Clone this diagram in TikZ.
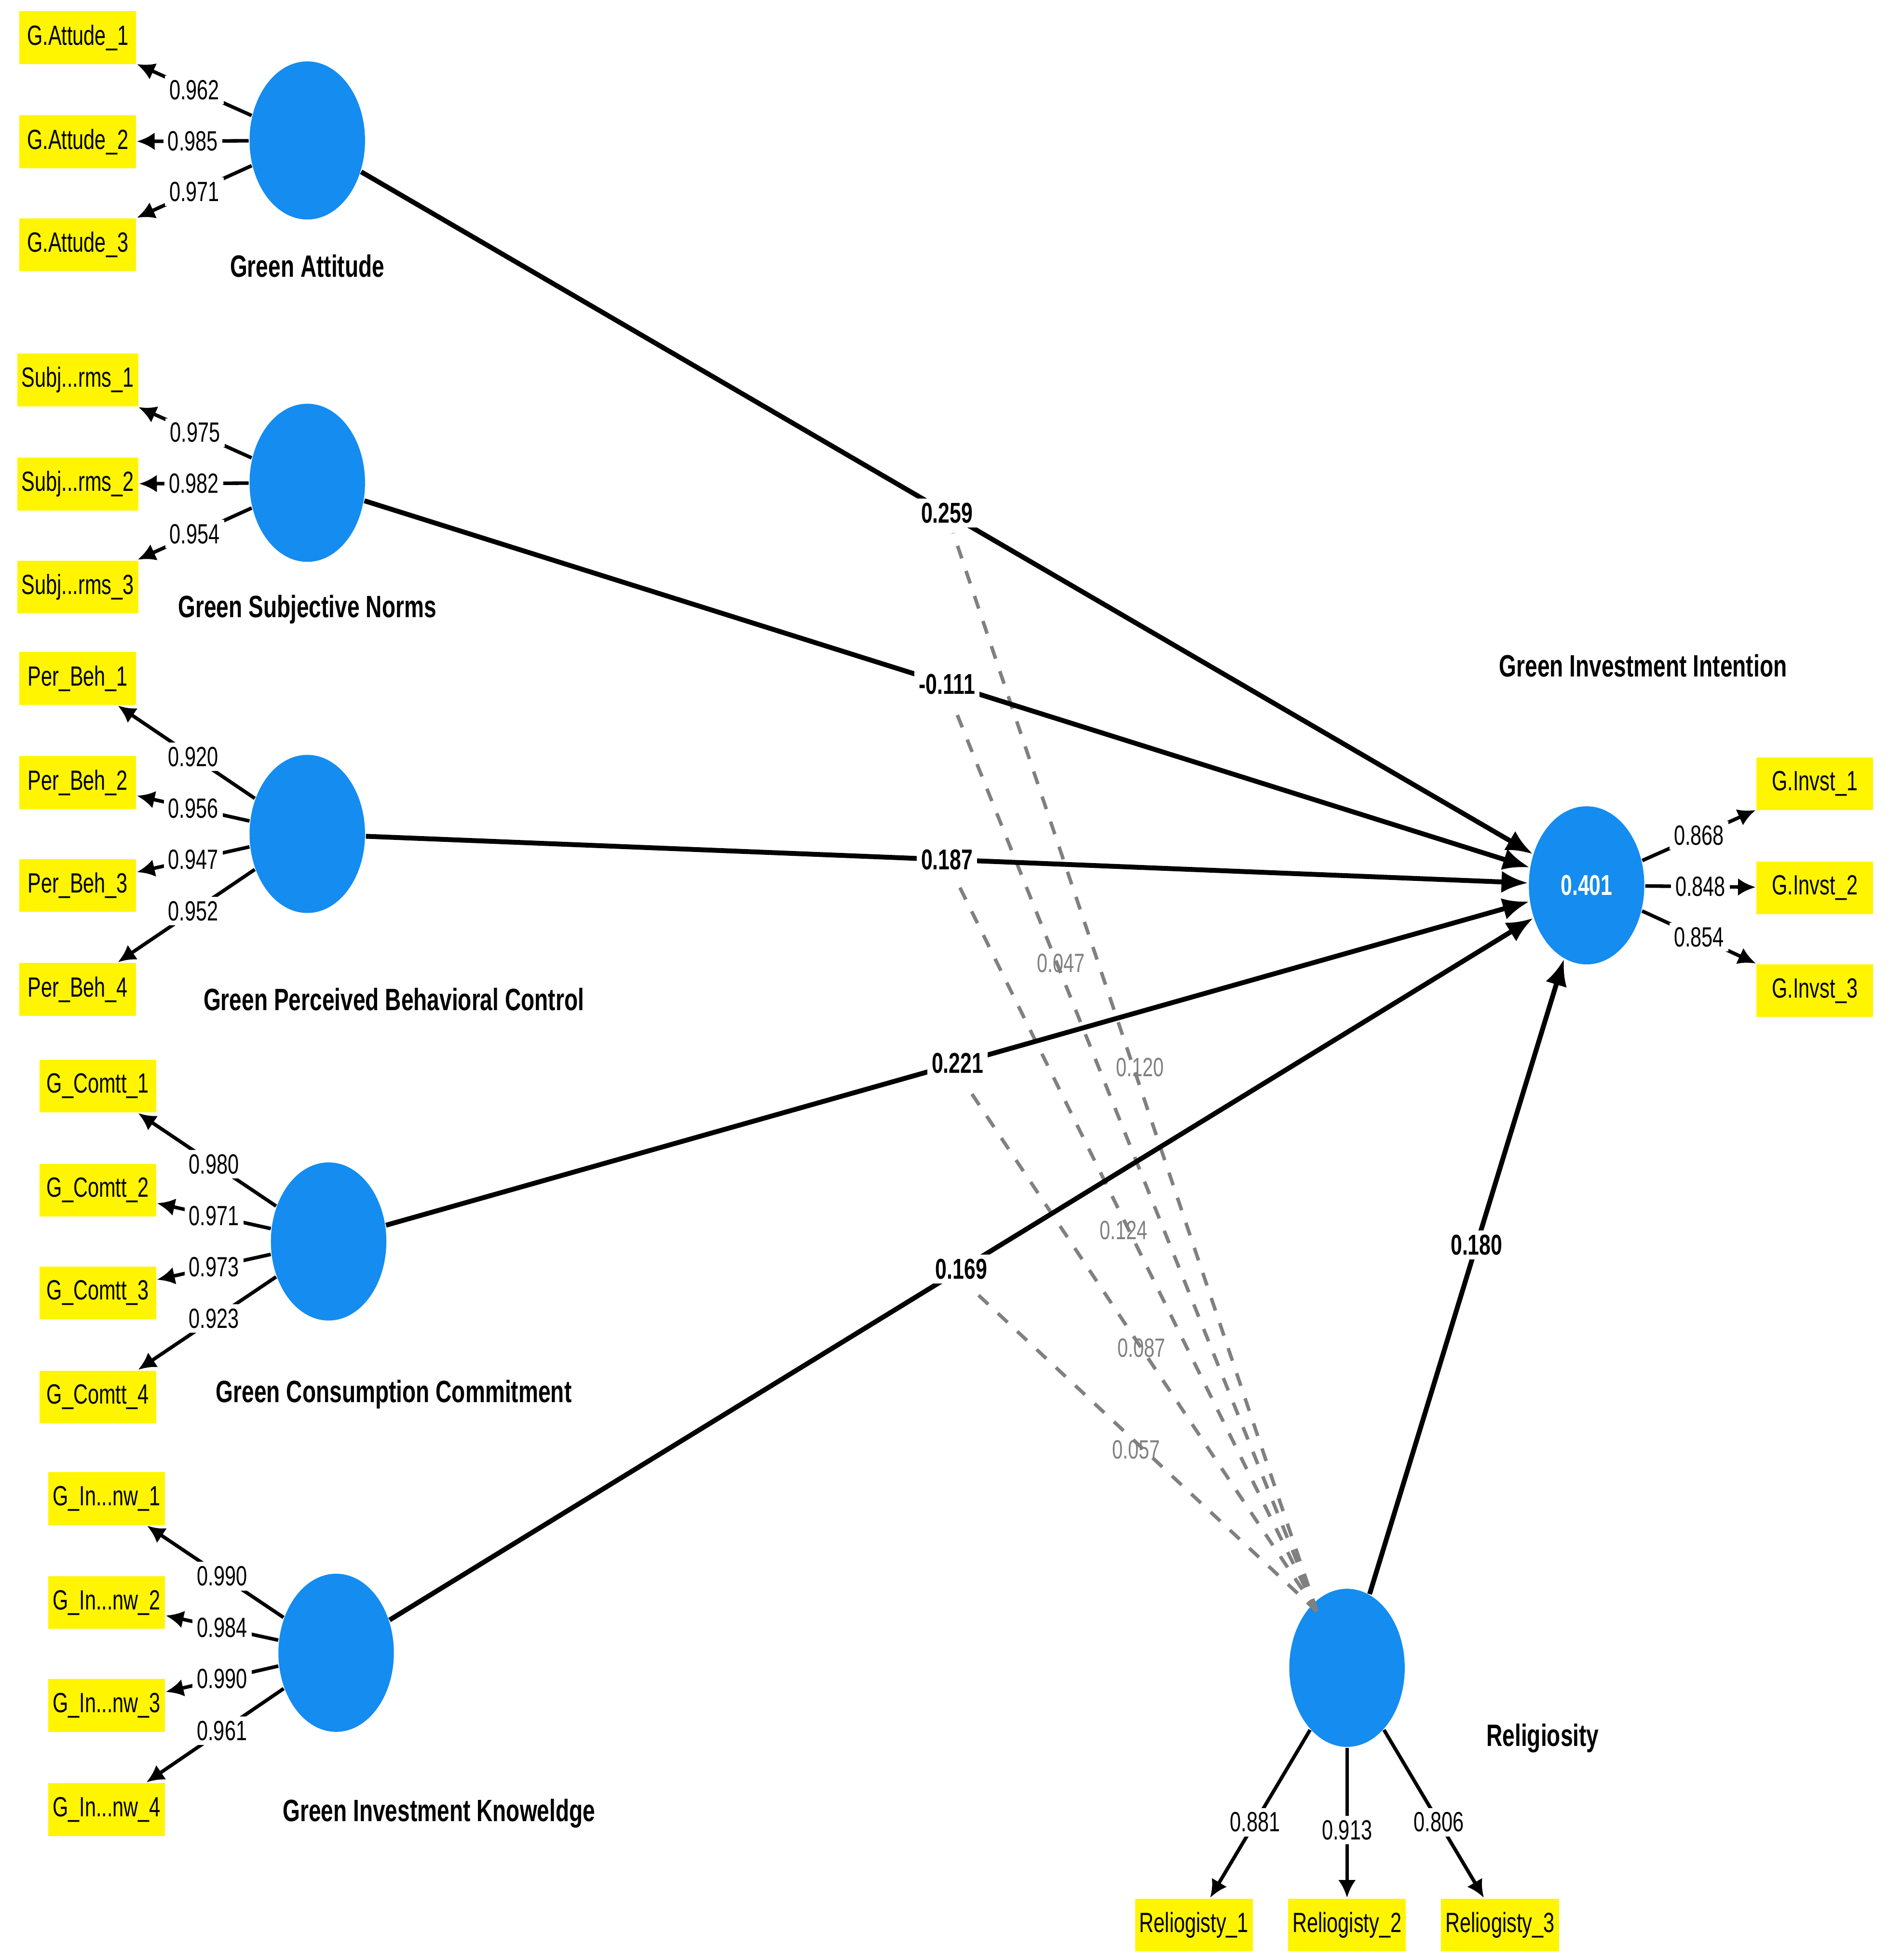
\documentclass[tikz,border=0pt]{standalone}
\usepackage{fontspec}
\setmainfont{Liberation Sans}[FakeStretch=0.72]
\usetikzlibrary{shapes.geometric,arrows.meta}
\definecolor{lvBlue}{RGB}{20,140,240}
\definecolor{indYellow}{RGB}{255,245,0}
\tikzset{
  lv/.style={ellipse,fill=lvBlue,minimum width=0.92cm,minimum height=1.26cm,inner sep=0pt,text=white,font=\bfseries\fontsize{6.5}{8}\selectfont},
  ind/.style={rectangle,fill=indYellow,minimum width=0.93cm,minimum height=0.42cm,inner sep=1pt,font=\fontsize{6.3}{8}\selectfont},
  lvname/.style={font=\bfseries\fontsize{7}{8}\selectfont},
  load/.style={-{Latex[length=4pt,width=4pt]},thick},
  path/.style={-{Latex[length=6pt,width=5pt]},line width=1.1pt},
  num/.style={fill=white,inner sep=1pt,font=\fontsize{6.3}{8}\selectfont},
  coef/.style={fill=white,inner sep=1pt,font=\bfseries\fontsize{6.5}{8}\selectfont},
  mod/.style={gray,dashed,thick},
  modnum/.style={text=gray,font=\fontsize{6}{7}\selectfont},
}
\begin{document}
\begin{tikzpicture}[x=0.01cm,y=-0.01cm]
        \useasboundingbox (0,0) rectangle (1505,1563);

        % latent variables
        \node[lv] (ga)  at ( 245,  112) {};
        \node[lv] (sn)  at ( 245,  385) {};
        \node[lv] (pbc) at ( 245,  665) {};
        \node[lv] (gcc) at ( 262,  990) {};
        \node[lv] (gik) at ( 268, 1318) {};
        \node[lv] (gii) at (1265,  706) {0.401};
        \node[lv] (rel) at (1074, 1330) {};

        \node[lvname] at ( 245,  212) {Green Attitude};
        \node[lvname] at ( 245,  486) {Green Subjective Norms};
        \node[lvname] at ( 314,  797) {Green Perceived Behavioral Control};
        \node[lvname] at ( 314, 1112) {Green Consumption Commitment};
        \node[lvname] at ( 350, 1446) {Green Investment Knoweldge};
        \node[lvname] at (1310,  531) {Green Investment Intention};
        \node[lvname] at (1230, 1386) {Religiosity};

        % indicators
        \node[ind] (ga1) at (62,  30) {G.Attude\_1};
        \node[ind] (ga2) at (62, 113) {G.Attude\_2};
        \node[ind] (ga3) at (62, 195) {G.Attude\_3};
        \node[ind] (sn1) at (62, 303) {Subj...rms\_1};
        \node[ind] (sn2) at (62, 386) {Subj...rms\_2};
        \node[ind] (sn3) at (62, 468) {Subj...rms\_3};
        \node[ind] (pb1) at (62, 541) {Per\_Beh\_1};
        \node[ind] (pb2) at (62, 624) {Per\_Beh\_2};
        \node[ind] (pb3) at (62, 706) {Per\_Beh\_3};
        \node[ind] (pb4) at (62, 789) {Per\_Beh\_4};
        \node[ind] (gc1) at (78, 866) {G\_Comtt\_1};
        \node[ind] (gc2) at (78, 949) {G\_Comtt\_2};
        \node[ind] (gc3) at (78,1031) {G\_Comtt\_3};
        \node[ind] (gc4) at (78,1114) {G\_Comtt\_4};
        \node[ind] (gk1) at (85,1195) {G\_In...nw\_1};
        \node[ind] (gk2) at (85,1278) {G\_In...nw\_2};
        \node[ind] (gk3) at (85,1360) {G\_In...nw\_3};
        \node[ind] (gk4) at (85,1443) {G\_In...nw\_4};
        \node[ind] (gi1) at (1447, 625) {G.Invst\_1};
        \node[ind] (gi2) at (1447, 708) {G.Invst\_2};
        \node[ind] (gi3) at (1447, 790) {G.Invst\_3};
        \node[ind] (re1) at ( 952,1535) {Reliogisty\_1};
        \node[ind] (re2) at (1074,1535) {Reliogisty\_2};
        \node[ind] (re3) at (1196,1535) {Reliogisty\_3};

        % outer loadings
        \draw[load] (ga) -- node[num] {0.962} (ga1);
        \draw[load] (ga) -- node[num] {0.985} (ga2);
        \draw[load] (ga) -- node[num] {0.971} (ga3);
        \draw[load] (sn) -- node[num] {0.975} (sn1);
        \draw[load] (sn) -- node[num] {0.982} (sn2);
        \draw[load] (sn) -- node[num] {0.954} (sn3);
        \draw[load] (pbc) -- node[num,pos=0.45] {0.920} (pb1);
        \draw[load] (pbc) -- node[num] {0.956} (pb2);
        \draw[load] (pbc) -- node[num] {0.947} (pb3);
        \draw[load] (pbc) -- node[num,pos=0.45] {0.952} (pb4);
        \draw[load] (gcc) -- node[num,pos=0.45] {0.980} (gc1);
        \draw[load] (gcc) -- node[num] {0.971} (gc2);
        \draw[load] (gcc) -- node[num] {0.973} (gc3);
        \draw[load] (gcc) -- node[num,pos=0.45] {0.923} (gc4);
        \draw[load] (gik) -- node[num,pos=0.45] {0.990} (gk1);
        \draw[load] (gik) -- node[num] {0.984} (gk2);
        \draw[load] (gik) -- node[num] {0.990} (gk3);
        \draw[load] (gik) -- node[num,pos=0.45] {0.961} (gk4);
        \draw[load] (gii) -- node[num] {0.868} (gi1);
        \draw[load] (gii) -- node[num] {0.848} (gi2);
        \draw[load] (gii) -- node[num] {0.854} (gi3);
        \draw[load] (rel) -- node[num,pos=0.55] {0.881} (re1);
        \draw[load] (rel) -- node[num,pos=0.55] {0.913} (re2);
        \draw[load] (rel) -- node[num,pos=0.55] {0.806} (re3);

        % moderation effects
        \coordinate (r0) at (1050,1285);
        \coordinate (m1) at (760, 425);
        \coordinate (m2) at (760, 562);
        \coordinate (m3) at (762, 701);
        \coordinate (m4) at (770, 865);
        \coordinate (m5) at (775,1028);
        \foreach \m in {m1,m2,m3,m4,m5}
          \draw[mod] (r0) -- (\m);
        \node[modnum] at (846, 768) {0.047};
        \node[modnum] at (909, 851) {0.120};
        \node[modnum] at (896, 981) {0.124};
        \node[modnum] at (910,1075) {0.087};
        \node[modnum] at (906,1156) {0.057};

        % structural paths
        \draw[path] (ga)  -- node[coef,pos=0.5] {0.259}  (gii);
        \draw[path] (sn)  -- node[coef,pos=0.5] {-0.111} (gii);
        \draw[path] (pbc) -- node[coef,pos=0.5] {0.187}  (gii);
        \draw[path] (gcc) -- node[coef,pos=0.5] {0.221}  (gii);
        \draw[path] (gik) -- node[coef,pos=0.5] {0.169}  (gii);
        \draw[path] (rel) -- node[coef,pos=0.55] {0.180} (gii);
\end{tikzpicture}
\end{document}
